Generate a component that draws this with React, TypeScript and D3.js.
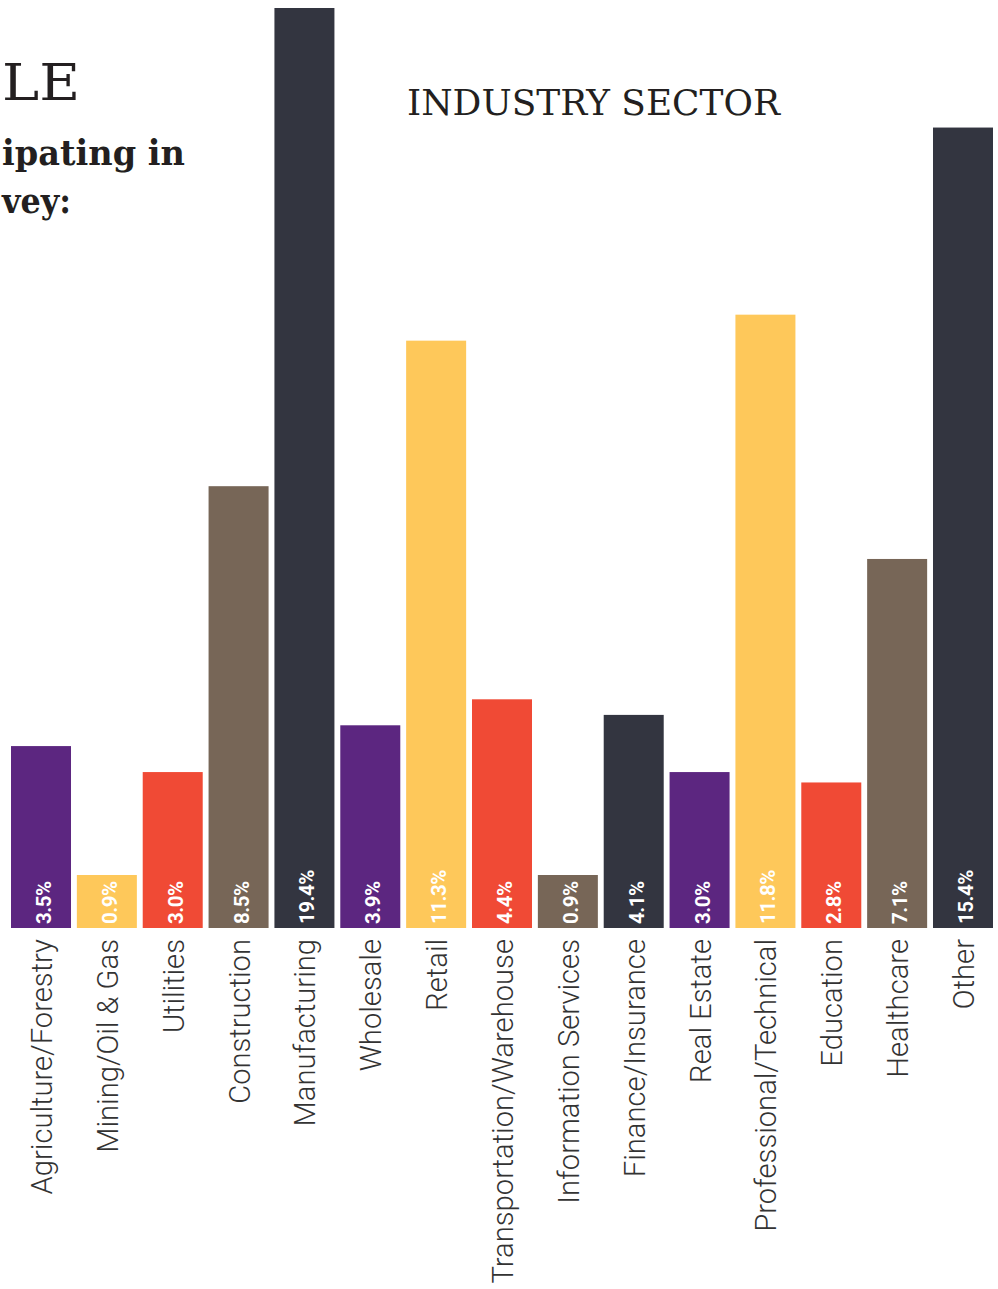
import React from "react";
import * as d3 from "d3";

const categories = [
  "Agriculture/Forestry",
  "Mining/Oil & Gas",
  "Utilities",
  "Construction",
  "Manufacturing",
  "Wholesale",
  "Retail",
  "Transportation/Warehouse",
  "Information Services",
  "Finance/Insurance",
  "Real Estate",
  "Professional/Technical",
  "Education",
  "Healthcare",
  "Other",
];
const values = [3.5, 0.9, 3.0, 8.5, 19.4, 3.9, 11.3, 4.4, 0.9, 4.1, 3.0, 11.8, 2.8, 7.1, 15.4];
const valueLabels = ["3.5%", "0.9%", "3.0%", "8.5%", "19.4%", "3.9%", "11.3%", "4.4%", "0.9%", "4.1%", "3.0%", "11.8%", "2.8%", "7.1%", "15.4%"];
const palette = ["#5c2680", "#fec85a", "#f04a35", "#776657", "#333540"];

const W = 998;
const H = 1289;
const baseY = 928;
const topY = 8;
const minBar = 53;

export default function App() {
  const x = d3
    .scaleBand<string>()
    .domain(categories)
    .range([11, 993])
    .paddingInner(0.0889)
    .paddingOuter(0);
  const y = d3.scaleLinear().domain([0, 17.7]).range([baseY, topY]).clamp(true);
  const color = d3.scaleOrdinal<number, string>().domain(d3.range(5)).range(palette);
  const bw = x.bandwidth();

  return (
    <svg
      width={W}
      height={H}
      style={{ position: "absolute", left: 0, top: 0, background: "#fff" }}
    >
      <text x={2} y={100} fontFamily="DejaVu Serif" fontSize={50} fill="#231f20" textLength={78} lengthAdjust="spacingAndGlyphs">
        LE
      </text>
      <text x={2} y={165} fontFamily="DejaVu Serif" fontWeight="bold" fontSize={36} fill="#231f20" textLength={183} lengthAdjust="spacingAndGlyphs">
        ipating in
      </text>
      <text x={2} y={213} fontFamily="DejaVu Serif" fontWeight="bold" fontSize={36} fill="#231f20" textLength={69} lengthAdjust="spacingAndGlyphs">
        vey:
      </text>
      <text x={407} y={115} fontFamily="DejaVu Serif" fontSize={36} fill="#231f20" textLength={373} lengthAdjust="spacingAndGlyphs">
        INDUSTRY SECTOR
      </text>

      {categories.map((c, i) => {
        const x0 = x(c)!;
        const cx = x0 + bw / 2;
        const top = Math.min(y(values[i]), baseY - minBar);
        return (
          <g key={c}>
            <rect x={x0} y={top} width={bw} height={baseY - top} fill={color(i % 5)} />
            <text
              transform={`translate(${cx + 10},${baseY - 4}) rotate(-90)`}
              fontFamily="Roboto"
              fontWeight="bold"
              fontSize={20.5}
              fill="#ffffff"
              letterSpacing={-0.5}
            >
              {valueLabels[i]}
            </text>
            <text
              transform={`translate(${cx + 11},${baseY + 11}) rotate(-90)`}
              textAnchor="end"
              fontFamily="Roboto"
              fontWeight={300}
              fontSize={29.2}
              fill="#333333"
            >
              {c}
            </text>
          </g>
        );
      })}
    </svg>
  );
}
